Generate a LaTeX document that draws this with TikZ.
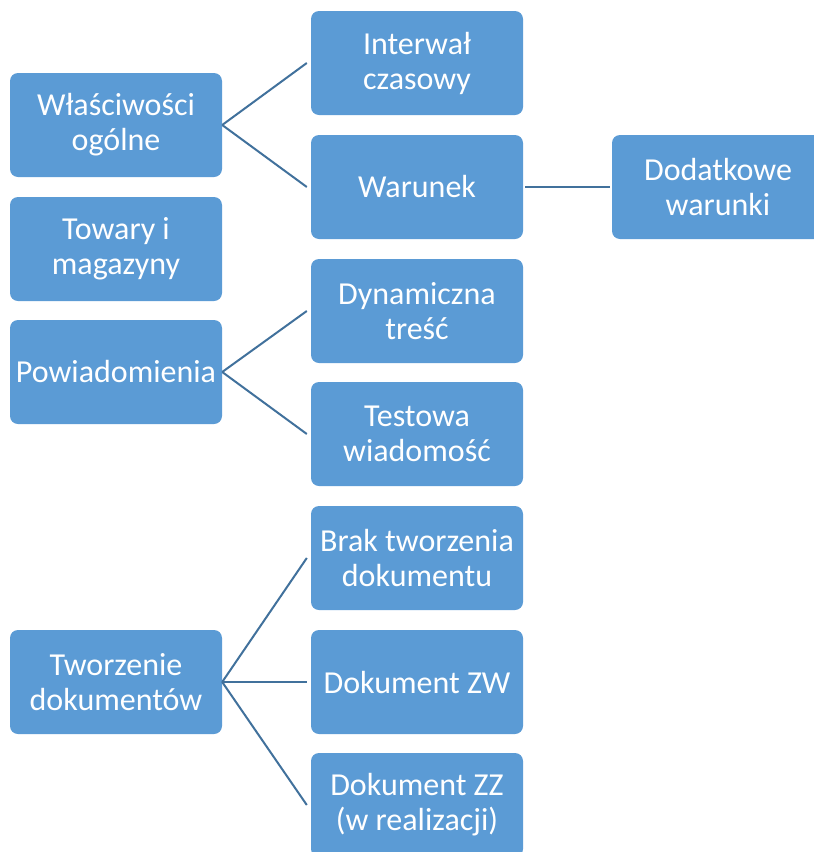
\documentclass[tikz,border=0pt]{standalone}
\usepackage{fontspec}
\setmainfont{Carlito}
\definecolor{boxblue}{HTML}{5B9BD5}
\definecolor{lineblue}{HTML}{41719C}
\begin{document}
\begin{tikzpicture}[x=1pt,y=-1pt,
  box/.style={draw=none, fill=boxblue, rounded corners=8pt, minimum width=212pt, minimum height=104pt, text=white, align=center, font=\fontsize{32}{35}\selectfont, inner sep=0pt},
  link/.style={draw=lineblue, line width=2pt}]
\useasboundingbox (0,0) rectangle (814,852);
\node[box] (wo) at (116,125) {Właściwości\\ogólne};
\node[box] (tm) at (116,249) {Towary i\\magazyny};
\node[box] (pw) at (116,372) {Powiadomienia};
\node[box] (td) at (116,682) {Tworzenie\\dokumentów};
\node[box] (iw) at (417,63) {Interwał\\czasowy};
\node[box] (wa) at (417,187) {Warunek};
\node[box] (dt) at (417,311) {Dynamiczna\\treść};
\node[box] (tw) at (417,434) {Testowa\\wiadomość};
\node[box] (bt) at (417,558) {Brak tworzenia\\dokumentu};
\node[box] (zw) at (417,682) {Dokument ZW};
\node[box] (zz) at (417,805) {Dokument ZZ\\(w realizacji)};
\node[box] (dw) at (718,187) {Dodatkowe\\warunki};
\draw[link] (wo.east) -- ([xshift=-4pt]iw.west);
\draw[link] (wo.east) -- ([xshift=-4pt]wa.west);
\draw[link] (pw.east) -- ([xshift=-4pt]dt.west);
\draw[link] (pw.east) -- ([xshift=-4pt]tw.west);
\draw[link] (td.east) -- ([xshift=-4pt]bt.west);
\draw[link] (td.east) -- ([xshift=-4pt]zw.west);
\draw[link] (td.east) -- ([xshift=-4pt]zz.west);
\draw[link] ([xshift=2pt]wa.east) -- ([xshift=-2pt]dw.west);
\end{tikzpicture}
\end{document}
